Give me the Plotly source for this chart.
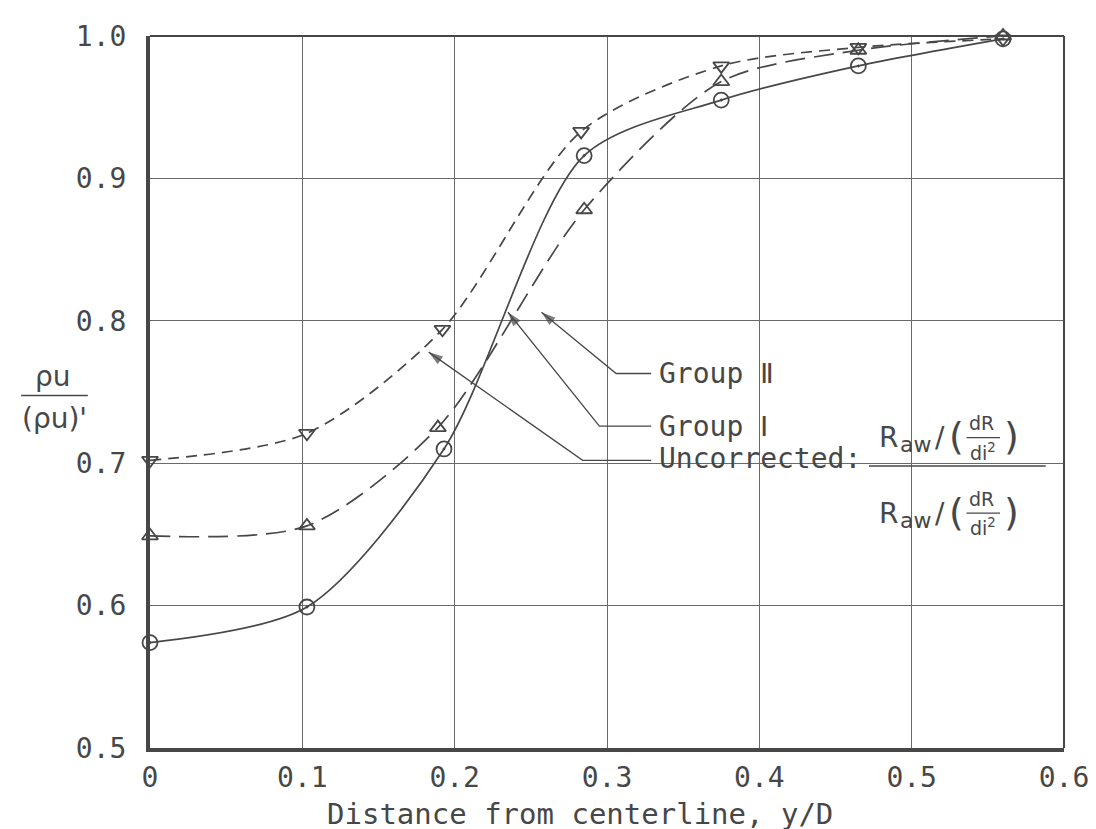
import plotly.graph_objects as go

# ---- data ----
x_circle = [0.0, 0.103, 0.193, 0.285, 0.375, 0.465, 0.56]
y_circle = [0.574, 0.599, 0.710, 0.916, 0.955, 0.979, 0.998]

x_tri_up = [0.0, 0.103, 0.189, 0.285, 0.375, 0.465, 0.56]
y_tri_up = [0.649, 0.656, 0.725, 0.878, 0.968, 0.990, 1.000]

x_tri_down = [0.0, 0.103, 0.192, 0.283, 0.375, 0.465, 0.56]
y_tri_down = [0.702, 0.721, 0.794, 0.933, 0.979, 0.992, 0.998]

x_ticks = [0, 0.1, 0.2, 0.3, 0.4, 0.5, 0.6]
x_tick_text = ["0", "0.1", "0.2", "0.3", "0.4", "0.5", "0.6"]
y_ticks = [0.5, 0.6, 0.7, 0.8, 0.9, 1.0]
y_tick_text = ["0.5", "0.6", "0.7", "0.8", "0.9", "1.0"]

INK = "#474747"
FONT = "DejaVu Sans Mono"
SANS = "DejaVu Sans"

fig = go.Figure()

fig.add_trace(go.Scatter(
    x=x_tri_down, y=y_tri_down, mode="lines+markers", cliponaxis=False,
    line=dict(color=INK, width=1.7, shape="spline", smoothing=0.8, dash="11px,7px"),
    marker=dict(symbol="triangle-down-open", size=14, color=INK, line=dict(width=1.8)),
    showlegend=False, name="Uncorrected"))

fig.add_trace(go.Scatter(
    x=x_tri_up, y=y_tri_up, mode="lines+markers", cliponaxis=False,
    line=dict(color=INK, width=1.7, shape="spline", smoothing=0.8, dash="20px,9px"),
    marker=dict(symbol="triangle-up-open", size=14, color=INK, line=dict(width=1.8)),
    showlegend=False, name="Group II"))

fig.add_trace(go.Scatter(
    x=x_circle, y=y_circle, mode="lines+markers", cliponaxis=False,
    line=dict(color=INK, width=1.7, shape="spline", smoothing=0.8),
    marker=dict(symbol="circle-open-dot", size=15, color=INK, line=dict(width=1.8)),
    showlegend=False, name="Group I"))

shapes = []
# top and right frame (thin)
shapes.append(dict(type="line", xref="paper", yref="paper", x0=0, x1=1, y0=1, y1=1,
                   line=dict(color=INK, width=2)))
shapes.append(dict(type="line", xref="paper", yref="paper", x0=1, x1=1, y0=0, y1=1,
                   line=dict(color=INK, width=2)))

# leader lines with arrowheads (text end -> elbow -> tip)
TX = 0.333
leaders = [
    (0.306, 0.763, 0.257, 0.806),   # Group II
    (0.295, 0.726, 0.235, 0.806),   # Group I
    (0.284, 0.702, 0.183, 0.778),   # Uncorrected
]
for ex, ey, tx, ty in leaders:
    fig.add_trace(go.Scatter(
        x=[TX - 0.004, ex, tx], y=[ey, ey, ty], mode="lines+markers", cliponaxis=False,
        line=dict(color=INK, width=1.3),
        marker=dict(symbol="arrow", size=[0, 0, 15], color=INK, angleref="previous",
                    line=dict(width=0)),
        showlegend=False, hoverinfo="skip"))

annotations = []
lab_font = dict(family=FONT, size=28, color=INK)
annotations.append(dict(x=TX, y=0.763, xref="x", yref="y", text="Group Ⅱ", showarrow=False,
                        xanchor="left", yanchor="middle", font=lab_font))
annotations.append(dict(x=TX, y=0.726, xref="x", yref="y", text="Group Ⅰ", showarrow=False,
                        xanchor="left", yanchor="middle", font=lab_font))
annotations.append(dict(x=TX, y=0.703, xref="x", yref="y", text="Uncorrected:", showarrow=False,
                        xanchor="left", yanchor="middle", font=lab_font))

# fraction  R_aw/(dR/di^2) over R_aw/(dR/di^2)
bar_y = 0.698
shapes.append(dict(type="line", xref="x", yref="y", x0=0.472, x1=0.588, y0=bar_y, y1=bar_y,
                   line=dict(color=INK, width=1.6)))
big = dict(family=SANS, size=28, color=INK)
sub = dict(family=SANS, size=22, color=INK)
small = dict(family=SANS, size=19, color=INK)
paren = dict(family=SANS, size=38, color=INK)
for yc in (0.718, 0.665):
    annotations.append(dict(x=0.477, y=yc, xref="x", yref="y", text="R",
                            showarrow=False, xanchor="left", yanchor="middle", font=big))
    annotations.append(dict(x=0.491, y=yc - 0.005, xref="x", yref="y", text="aw",
                            showarrow=False, xanchor="left", yanchor="middle", font=sub))
    annotations.append(dict(x=0.514, y=yc, xref="x", yref="y", text="/",
                            showarrow=False, xanchor="left", yanchor="middle", font=big))
    annotations.append(dict(x=0.523, y=yc + 0.001, xref="x", yref="y", text="(",
                            showarrow=False, xanchor="left", yanchor="middle", font=paren))
    annotations.append(dict(x=0.546, y=yc + 0.010, xref="x", yref="y", text="dR",
                            showarrow=False, xanchor="center", yanchor="middle", font=small))
    annotations.append(dict(x=0.547, y=yc - 0.010, xref="x", yref="y", text="di<sup>2</sup>",
                            showarrow=False, xanchor="center", yanchor="middle", font=small))
    shapes.append(dict(type="line", xref="x", yref="y", x0=0.536, x1=0.558, y0=yc, y1=yc,
                       line=dict(color=INK, width=1.3)))
    annotations.append(dict(x=0.559, y=yc + 0.001, xref="x", yref="y", text=")",
                            showarrow=False, xanchor="left", yanchor="middle", font=paren))

# y-axis label: rho u / (rho u)'
ylab_font = dict(family=SANS, size=28, color=INK)
annotations.append(dict(x=-0.106, y=0.522, xref="paper", yref="paper", text="ρu",
                        showarrow=False, xanchor="center", yanchor="middle", font=ylab_font))
annotations.append(dict(x=-0.104, y=0.463, xref="paper", yref="paper", text="(ρu)'",
                        showarrow=False, xanchor="center", yanchor="middle", font=ylab_font))
shapes.append(dict(type="line", xref="paper", yref="paper", x0=-0.141, x1=-0.068,
                   y0=0.495, y1=0.495, line=dict(color=INK, width=1.6)))

# x-axis title
annotations.append(dict(x=0.47, y=-0.093, xref="paper", yref="paper",
                        text="Distance from centerline, y/D", showarrow=False,
                        xanchor="center", yanchor="middle",
                        font=dict(family=FONT, size=29, color=INK)))

fig.update_layout(
    width=1096, height=829,
    margin=dict(l=142, r=40, t=20, b=89),
    paper_bgcolor="white", plot_bgcolor="white",
    shapes=shapes, annotations=annotations,
    font=dict(family=FONT, color=INK),
    xaxis=dict(range=[0, 0.6], tickvals=x_ticks, ticktext=x_tick_text,
               showgrid=True, gridcolor="#6a6a6a", gridwidth=1.3,
               showline=True, linecolor=INK, linewidth=4, zeroline=False,
               ticks="", ticklabelstandoff=1,
               tickfont=dict(family=FONT, size=28, color=INK)),
    yaxis=dict(range=[0.5, 1.0], tickvals=y_ticks, ticktext=y_tick_text,
               showgrid=True, gridcolor="#6a6a6a", gridwidth=1.3,
               showline=True, linecolor=INK, linewidth=4, zeroline=False,
               ticks="", ticklabelstandoff=14,
               tickfont=dict(family=FONT, size=28, color=INK)),
)

fig.write_html("out.html")
